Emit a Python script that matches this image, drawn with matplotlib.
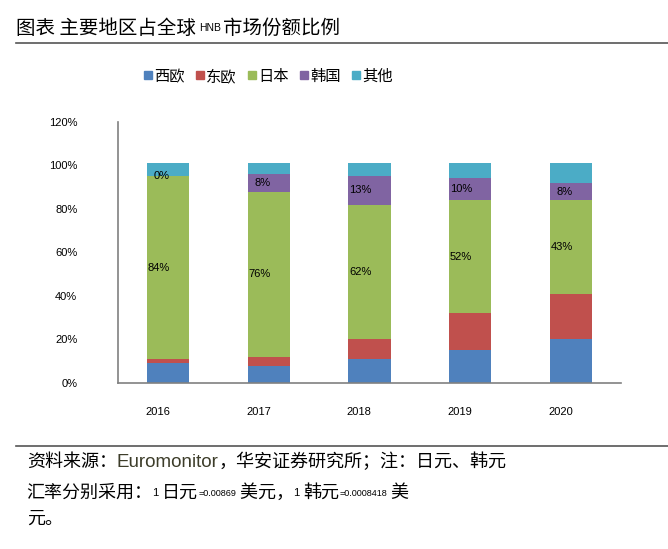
import numpy as np
import matplotlib
matplotlib.use('Agg')
import matplotlib.pyplot as plt
from matplotlib.lines import Line2D
from matplotlib.ticker import FuncFormatter

plt.rcParams['font.family'] = ['Noto Sans CJK SC', 'DejaVu Sans']

# data (share of global HNB market, %)
years = ['2016', '2017', '2018', '2019', '2020']
regions = ['西欧', '东欧', '日本', '韩国', '其他']
west_eu = [9, 8, 11, 15, 20]
east_eu = [2, 4, 9, 17, 21]
japan = [84, 76, 62, 52, 43]
korea = [0, 8, 13, 10, 8]
other = [6, 5, 6, 7, 9]
colors = ['#4F81BD', '#C0504D', '#9BBB59', '#8064A2', '#4BACC6']

series = [west_eu, east_eu, japan, korea, other]
labelled = [False, False, True, True, False]

fig = plt.figure(figsize=(6.68, 5.49), dpi=100)
ax = fig.add_axes([0.176, 0.3024, 0.754, 0.4756])

x = np.arange(len(years))
bottom = np.zeros(len(years))
for vals, col, name, lab in zip(series, colors, regions, labelled):
    v = np.array(vals) / 100
    ax.bar(x, v, 0.42, bottom=bottom, color=col, label=name)
    if lab:
        for i in range(len(years)):
            txt = '%d%%' % vals[i]
            ax.text(x[i] - 0.03 * len(txt), bottom[i] + v[i] / 2, txt,
                    ha='center', va='center', fontsize=8,
                    family='Liberation Sans', color='black')
    bottom += v

ax.set_xlim(-0.5, 4.5)
ax.set_ylim(0, 1.2)
ax.set_yticks(np.arange(0, 1.21, 0.2))
ax.yaxis.set_major_formatter(FuncFormatter(lambda v, p: '%d%%' % round(v * 100)))
ax.set_xticks(x - 0.1, years)
for lbl in ax.get_xticklabels() + ax.get_yticklabels():
    lbl.set_family('Liberation Sans')
    lbl.set_fontsize(8)
ax.tick_params(axis='x', length=0, pad=17)
ax.tick_params(axis='y', length=0, pad=29)
for s in ['top', 'right']:
    ax.spines[s].set_visible(False)
for s in ['left', 'bottom']:
    ax.spines[s].set_color('#808080')
    ax.spines[s].set_linewidth(1.2)

# legend
handles = [Line2D([], [], marker='s', linestyle='none', markersize=5.5,
                  markerfacecolor=c, markeredgecolor=c) for c in colors]
fig.legend(handles, regions, loc='center left', bbox_to_anchor=(0.205, 0.861),
           ncol=5, frameon=False, fontsize=11, handlelength=0.5,
           handletextpad=0.15, columnspacing=0.75, borderpad=0)

# title
t1 = fig.text(0.024, 0.949, '图表 主要地区占全球', fontsize=14, va='center')
ann = ax.annotate('HNB', xy=(1, 0.5), xycoords=t1, xytext=(2, 0),
                  textcoords='offset points', fontsize=7.5, va='center',
                  family='Liberation Sans')
ax.annotate('市场份额比例', xy=(1, 0.5), xycoords=ann, xytext=(2, 0),
            textcoords='offset points', fontsize=14, va='center')
fig.add_artist(Line2D([0.024, 1.0], [0.921, 0.921], color='#555555', lw=1.2))

# footer
fig.add_artist(Line2D([0.024, 1.0], [0.188, 0.188], color='#555555', lw=1.2))
f1 = fig.text(0.04, 0.158, '资料来源：', fontsize=13, va='center')
a = ax.annotate('Euromonitor', xy=(1, 0.5), xycoords=f1, fontsize=13.5,
                va='center', color='#3d3d2a', family='Liberation Sans')
ax.annotate('，华安证券研究所；注：日元、韩元', xy=(1, 0.5), xycoords=a,
            fontsize=13, va='center')

parts = [('汇率分别采用：', 13, None), ('1 ', 8, 'Liberation Sans'),
         ('日元', 13, None), ('=0.00869', 6.5, 'Liberation Sans'),
         (' 美元，', 13, None), ('1 ', 8, 'Liberation Sans'),
         ('韩元', 13, None), ('=0.0008418', 6.5, 'Liberation Sans'),
         (' 美', 13, None)]
prev = fig.text(0.04, 0.102, parts[0][0], fontsize=parts[0][1], va='center')
for s, fs, fam in parts[1:]:
    kw = {'family': fam} if fam else {}
    prev = ax.annotate(s, xy=(1, 0.5), xycoords=prev, fontsize=fs,
                       va='center', **kw)
fig.text(0.04, 0.056, '元。', fontsize=13, va='center')

fig.savefig('out.png', dpi=100)
